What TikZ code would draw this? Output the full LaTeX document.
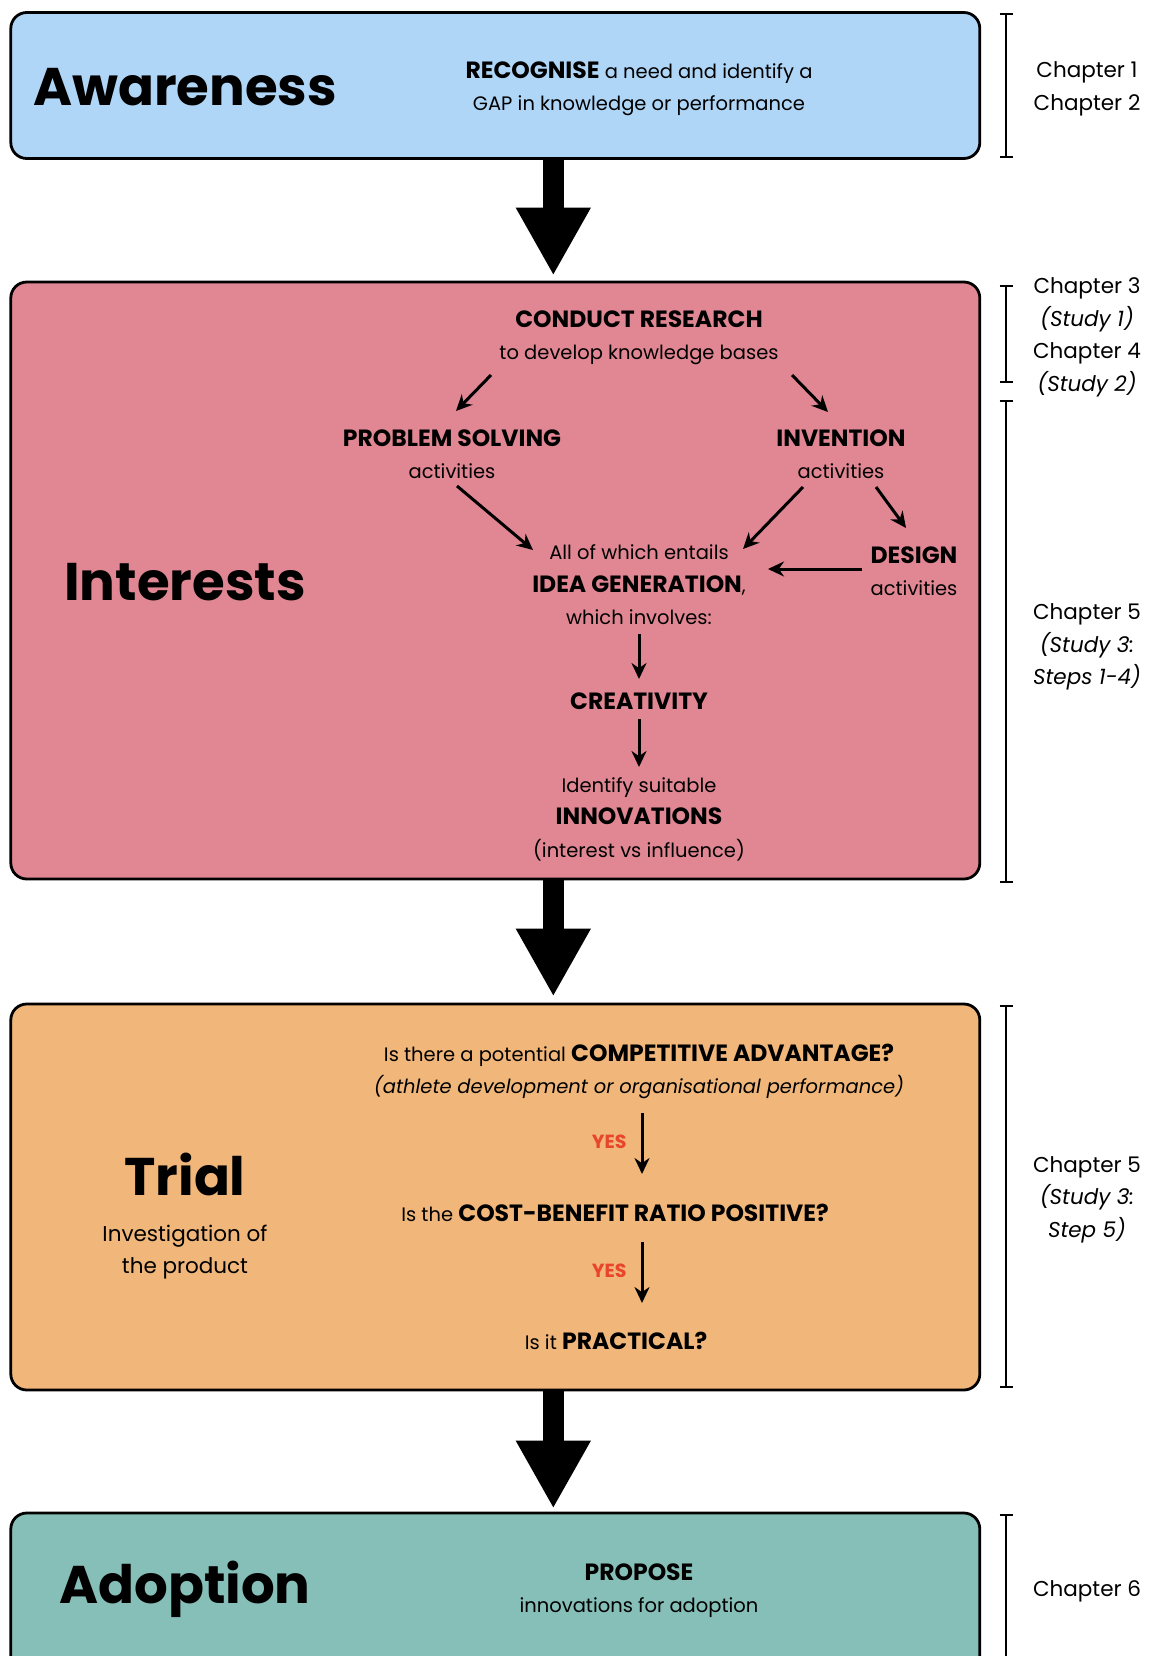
\documentclass[tikz,border=0pt]{standalone}
\usepackage{fontspec}
\setmainfont{Poppins}
\usetikzlibrary{arrows.meta, calc}

\definecolor{awareblue}{HTML}{B0D6F7}
\definecolor{interpink}{HTML}{E08793}
\definecolor{trialorange}{HTML}{F0B67A}
\definecolor{adoptteal}{HTML}{86BEB8}
\definecolor{yesred}{HTML}{E8452C}

% Bold key words are set larger than the running text
\newcommand{\boldkey}[1]{{\fontsize{23.5}{32.5}\selectfont\bfseries #1}}

\tikzset{
	stage/.style = {draw, line width = 2.8pt, rounded corners = 16pt, minimum width = 969pt},
	title/.style = {inner sep = 0pt, font = \fontsize{53}{60}\selectfont\bfseries},
	body/.style = {align = center, inner sep = 0pt, font = \fontsize{19.5}{32.5}\selectfont},
	chap/.style = {align = center, inner sep = 0pt, font = \fontsize{21.5}{32.5}\selectfont},
	yes/.style = {inner sep = 0pt, text = yesred, font = \fontsize{19}{20}\selectfont\bfseries},
	flow/.style = {line width = 21pt, -{Triangle[width = 70pt, length = 68pt]}},
	arr/.style = {line width = 3pt, -{Stealth[length = 16pt, width = 15pt]}},
	bracket/.style = {line width = 2.3pt, {Bar[width = 13pt]}-{Bar[width = 13pt]}},
}

\begin{document}
\begin{tikzpicture}[x = 1pt, y = -1pt]

\useasboundingbox (0, 0) rectangle (1148, 1656);

% Stage boxes

\node [stage, fill = awareblue, minimum height = 146pt] (aware) at (495.3, 85.5) {};
\node [stage, fill = interpink, minimum height = 597pt] (inter) at (495.3, 580.5) {};
\node [stage, fill = trialorange, minimum height = 386pt] (trial) at (495.3, 1197) {};
\node [stage, fill = adoptteal, minimum height = 200pt] (adopt) at (495.3, 1613) {};

% Big arrows between stages

\draw [flow] ($(aware.south) + (58, -1)$) -- ($(inter.north) + (58, -5)$);
\draw [flow] ($(inter.south) + (58, -1)$) -- ($(trial.north) + (58, -6)$);
\draw [flow] ($(trial.south) + (58, -1)$) -- ($(adopt.north) + (58, -3)$);

% Awareness

\node [title] (awaretitle) at (185, 87) {Awareness};
\node [body] (recognise) at (639, 89) {\boldkey{RECOGNISE} a need and identify a\\GAP in knowledge or performance};

% Interests

\node [title] (intertitle) at (185, 582) {Interests};

\node [body] (research) at (639, 338) {\boldkey{CONDUCT RESEARCH}\\to develop knowledge bases};
\node [body] (solving) at (452, 454) {\boldkey{PROBLEM SOLVING}\\activities};
\node [body] (invention) at (841, 454) {\boldkey{INVENTION}\\activities};
\node [body] (design) at (914, 571) {\boldkey{DESIGN}\\activities};
\node [body] (ideagen) at (639, 585) {All of which entails\\\boldkey{IDEA GENERATION},\\which involves:};
\node [body] (creativity) at (639, 701) {\boldkey{CREATIVITY}};
\node [body] (innovations) at (639, 819) {Identify suitable\\\boldkey{INNOVATIONS}\\(interest vs influence)};

\draw [arr] ($(research) + (-148, 37)$) -- ($(solving) + (4, -43)$);
\draw [arr] ($(research) + (153, 37)$) -- ($(invention) + (-13, -42)$);
\draw [arr] ($(solving) + (5, 32)$) -- ($(ideagen) + (-106, -35)$);
\draw [arr] ($(invention) + (-38, 33)$) -- ($(ideagen) + (104, -36)$);
\draw [arr] ($(invention) + (35, 33)$) -- ($(design) + (-8, -43)$);
\draw [arr] ($(design) + (-52, -2)$) -- ($(ideagen) + (129, -16)$);
\draw [arr] ($(ideagen) + (0, 49)$) -- ($(creativity) + (0, -22)$);
\draw [arr] ($(creativity) + (0, 18)$) -- ($(innovations) + (0, -52)$);

% Trial

\node [title] (trialtitle) at (185, 1174) {Trial};
\node [body, font = \fontsize{21.5}{32}\selectfont] (investigation) at (185, 1252) {Investigation of\\the product};

\node [body] (advantage) at (639, 1071.5) {Is there a potential \boldkey{COMPETITIVE ADVANTAGE?}\\\textit{(athlete development or organisational performance)}};
\node [body] (ratio) at (615, 1213) {Is the \boldkey{COST-BENEFIT RATIO POSITIVE?}};
\node [body] (practical) at (616, 1341) {Is it \boldkey{PRACTICAL?}};

\draw [arr] ($(advantage) + (3, 41.5)$) -- node [yes, left = 14pt, yshift = 2pt] (yes1) {YES} ($(ratio) + (27, -39)$);
\draw [arr] ($(ratio) + (27, 29)$) -- node [yes, left = 14pt, yshift = 2pt] (yes2) {YES} ($(practical) + (26, -38)$);

% Adoption

\node [title] (adopttitle) at (185, 1589) {Adoption};
\node [body] (propose) at (639, 1590.5) {\boldkey{PROPOSE}\\innovations for adoption};

% Chapter brackets

\draw [bracket] (1006, 13) -- (1006, 158);
\draw [bracket] (1006, 285) -- (1006, 383);
\draw [bracket] (1006, 400) -- (1006, 883);
\draw [bracket] (1006, 1005) -- (1006, 1388);
\draw [bracket] (1006, 1514) -- (1006, 1700);

\node [chap] (ch12) at (1087, 89) {Chapter 1\\Chapter 2};
\node [chap] (ch34) at (1087, 337.5) {Chapter 3\\\textit{(Study 1)}\\Chapter 4\\\textit{(Study 2)}};
\node [chap] (ch5a) at (1087, 647) {Chapter 5\\\textit{(Study 3:}\\\textit{Steps 1-4)}};
\node [chap] (ch5b) at (1087, 1199.5) {Chapter 5\\\textit{(Study 3:}\\\textit{Step 5)}};
\node [chap] (ch6) at (1087, 1591) {Chapter 6};

\end{tikzpicture}
\end{document}
